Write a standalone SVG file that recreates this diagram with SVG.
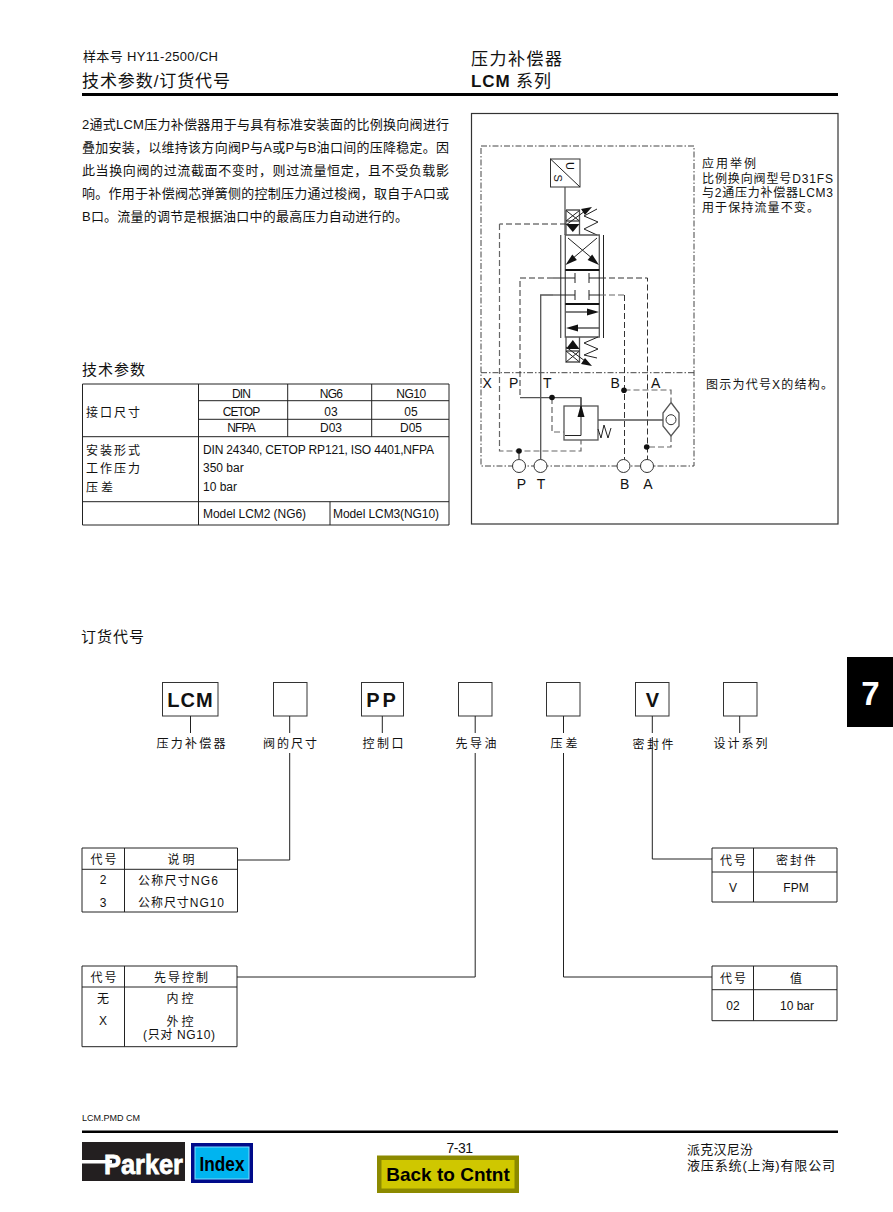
<svg xmlns="http://www.w3.org/2000/svg" width="893" height="1212" viewBox="0 0 893 1212">
<defs>
<style>
text{font-family:"Liberation Sans","Noto Sans CJK SC",sans-serif;fill:#111}
.s10{font-size:10px}.s11{font-size:11px}.s12{font-size:12px}.s13{font-size:13px}.s14{font-size:14px}.s15{font-size:15px}.s17{font-size:17px}
.m{text-anchor:middle}
.b{font-weight:bold}
.line{fill:none;stroke:#222;stroke-width:1}
.gl{fill:none;stroke:#555;stroke-width:1.3}
.da{fill:none;stroke:#333;stroke-width:1;stroke-dasharray:6 3}
.dg{fill:none;stroke:#666;stroke-width:1.2;stroke-dasharray:6 3}
.dd{fill:none;stroke:#444;stroke-width:1;stroke-dasharray:6 2 1.5 2}
.box{fill:#fff;stroke:#333;stroke-width:1}
.tb{fill:none;stroke:#222;stroke-width:1}
.k{fill:#111;stroke:none}
.port{fill:#fff;stroke:#333;stroke-width:1}
</style>
</defs>
<rect width="893" height="1212" fill="#fff"/>

<g id="header">
<text x="83" y="61" class="s13" textLength="135">样本号 HY11-2500/CH</text>
<text x="82" y="87" class="s17" textLength="148">技术参数/订货代号</text>
<text x="471" y="65" class="s17" textLength="91">压力补偿器</text>
<text x="471" y="87" class="s17" textLength="80"><tspan class="b">LCM</tspan> 系列</text>
<rect x="82" y="93" width="756" height="3" fill="#000"/>
</g>

<g id="intro">
<text x="82" y="129" class="s13" textLength="367">2通式LCM压力补偿器用于与具有标准安装面的比例换向阀进行</text>
<text x="82" y="152" class="s13" textLength="367">叠加安装，以维持该方向阀P与A或P与B油口间的压降稳定。因</text>
<text x="82" y="175" class="s13" textLength="367">此当换向阀的过流截面不变时，则过流量恒定，且不受负载影</text>
<text x="82" y="198" class="s13" textLength="367">响。作用于补偿阀芯弹簧侧的控制压力通过梭阀，取自于A口或</text>
<text x="82" y="221" class="s13" textLength="326">B口。流量的调节是根据油口中的最高压力自动进行的。</text>
</g>

<g id="spec-table">
<text x="82" y="375" class="s15" textLength="63">技术参数</text>
<path class="tb" d="M82.500 384H449V525H82.500ZM198.500 400.700H449M198.500 419.300H449M82.500 436.700H449M82.500 501.700H449M198.500 384V525M287.700 384V436.700M371.700 384V436.700M330 501.700V525"/>
<text x="86" y="417" class="s12" textLength="54">接口尺寸</text>
<text x="241" y="398" class="s12 m" letter-spacing="-.9">DIN</text>
<text x="331" y="398" class="s12 m" letter-spacing="-.7">NG6</text>
<text x="411" y="398" class="s12 m" letter-spacing="-.5">NG10</text>
<text x="241" y="416" class="s12 m" letter-spacing="-.9">CETOP</text>
<text x="331" y="416" class="s12 m">03</text>
<text x="411" y="416" class="s12 m">05</text>
<text x="241" y="432" class="s12 m" letter-spacing="-.9">NFPA</text>
<text x="331" y="432" class="s12 m">D03</text>
<text x="411" y="432" class="s12 m">D05</text>
<text x="86" y="455" class="s12" textLength="54">安装形式</text>
<text x="86" y="473" class="s12" textLength="54">工作压力</text>
<text x="86" y="492" class="s12" textLength="27">压差</text>
<text x="203" y="454" class="s12" textLength="231">DIN 24340, CETOP RP121, ISO 4401,NFPA</text>
<text x="203" y="472" class="s12">350 bar</text>
<text x="203" y="491" class="s12">10 bar</text>
<text x="203" y="518" class="s12" textLength="103">Model LCM2 (NG6)</text>
<text x="333" y="518" class="s12" textLength="106">Model LCM3(NG10)</text>
</g>

<g id="schematic">
<rect x="471.500" y="113.500" width="366.500" height="410.500" fill="none" stroke="#333" stroke-width="1.2"/>
<path class="dd" d="M481 146H694V466H481ZM481 372.700H694"/>
<text x="702" y="167.500" class="s12" textLength="54">应用举例</text>
<text x="702" y="182.500" class="s12" textLength="131">比例换向阀型号D31FS</text>
<text x="702" y="197" class="s12" textLength="131">与2通压力补偿器LCM3</text>
<text x="702" y="211.500" class="s12" textLength="117">用于保持流量不变。</text>
<text x="706" y="389" class="s12" textLength="127">图示为代号X的结构。</text>
<text x="482.500" y="388" class="s14">X</text><text x="509" y="388" class="s14">P</text><text x="543" y="388" class="s14">T</text><text x="610.500" y="388" class="s14">B</text><text x="651" y="388" class="s14">A</text>
<text x="521.500" y="489" class="s14 m">P</text><text x="541" y="489" class="s14 m">T</text><text x="624.700" y="489" class="s14 m">B</text><text x="648" y="489" class="s14 m">A</text>
</g>

<g id="solenoid">
<rect class="box" x="550.500" y="159" width="29.500" height="28"/>
<path class="line" d="M550.500 159L580 187"/>
<text class="s11" transform="translate(566 162) rotate(90)">U</text>
<text class="s11" transform="translate(553.500 174.500) rotate(90)">S</text>
<path class="gl" d="M565 187V235"/>
</g>

<g id="pilot-top">
<path class="gl" d="M566 210H579.500V235M566 210V235M566 221H579.500"/>
<path class="line" d="M566 210.500L579.500 221M579.500 210.500L566 221"/>
<path class="k" d="M566 224H579.500L572.800 232Z"/>
<path class="line" d="M566 225L585 211"/>
<path class="k" d="M592 207L581 209L585 215Z"/>
<path class="line" d="M597 235L584 229L598 222L584 216L597 209"/>
</g>

<g id="main-spool">
<path class="gl" d="M565.300 235H599.300V337H565.300ZM560.700 235V338"/>
<path class="line" d="M603.500 235V338"/>
<path class="line" d="M597 238L572 259M568 238L593 259"/>
<path class="k" d="M565.500 265L576.900 259.900L572.300 254.500Z"/>
<path class="k" d="M599 265L587.600 259.900L592.200 254.500Z"/>
<rect x="565.300" y="269" width="34" height="2" fill="#111"/>
<rect x="565.300" y="303" width="34" height="2" fill="#111"/>
<path class="line" d="M553 278H575M575 273V283M589 273V283M589 278H600M553 295H575M575 290V300M589 290V300M589 295H600"/>
<path class="gl" d="M565.300 312H590M599.300 328H575"/>
<path class="k" d="M599 312L587 308.500V315.500ZM566 328L578 324.500V331.500Z"/>
</g>

<g id="pilot-bottom">
<path class="gl" d="M566 337V362H579.500V337M566 351H579.500"/>
<path class="line" d="M566 351L579.500 362M579.500 351L566 362"/>
<path class="k" d="M566 349H579.500L572.800 340Z"/>
<path class="line" d="M566 347L585 361"/>
<path class="k" d="M592 366L581 364L585 358Z"/>
<path class="line" d="M598 337L584 343L598 349L584 355L597 358"/>
</g>

<g id="relief-valve">
<rect class="gl" x="564" y="406" width="34" height="34"/>
<path class="line" d="M565 435.500H581V398"/>
<path class="k" d="M581 404L577.500 417H584.500Z"/>
<path class="line" d="M598 429L601 438L604 425L608 438L611 428"/>
</g>

<g id="shuttle-valve">
<path class="gl" d="M671 402.500L679 413V426L671 436L663 426V413Z"/>
<circle class="port" cx="671" cy="419.700" r="5"/>
</g>

<g id="port-P"><circle class="port" cx="519" cy="466" r="6.500"/></g>
<g id="port-T"><circle class="port" cx="540.500" cy="466" r="6.500"/></g>
<g id="port-B"><circle class="port" cx="623.500" cy="466" r="6.500"/></g>
<g id="port-A"><circle class="port" cx="647" cy="466" r="6.500"/></g>

<g id="schematic-connectors">
<path class="da" d="M566 224H499.500"/>
<path class="dg" d="M499.500 224V451H581V440"/>
<path class="da" d="M553 278H520V397.700"/>
<path class="gl" d="M520 397.700H581V406"/>
<path class="gl" d="M553 295H540.700V459.500"/>
<path class="da" d="M600 278H647.500V459.500"/>
<path class="dg" d="M600 295H624.500"/>
<path class="da" d="M624.500 295V459.500"/>
<path class="dg" d="M624.500 390H671V402"/>
<path class="dg" d="M552 398V432H564"/>
<path class="dg" d="M671 436V447H647"/>
<path class="gl" d="M598 420H663M519 451V459.500"/>
<circle class="k" cx="519" cy="451" r="2.800"/>
<circle class="k" cx="552" cy="397.500" r="2.800"/>
<circle class="k" cx="624" cy="390.300" r="2.800"/>
<circle class="k" cx="646.700" cy="447" r="2.800"/>
</g>

<g id="order-title"><text x="81" y="642" class="s15" textLength="63">订货代号</text></g>

<g id="code-LCM"><rect class="box" x="162.500" y="682.500" width="55.500" height="33.500"/><text x="190.500" y="707" class="m b" style="font-size:20px" letter-spacing="1">LCM</text><text x="191" y="747.500" class="s12 m" textLength="69">压力补偿器</text></g>
<g id="code-size"><rect class="box" x="273.500" y="682.500" width="33.500" height="33.500"/><text x="290" y="747.500" class="s12 m" textLength="54">阀的尺寸</text></g>
<g id="code-PP"><rect class="box" x="361.500" y="682.500" width="42" height="33.500"/><text x="382.500" y="707" class="m b" style="font-size:20px" letter-spacing="3">PP</text><text x="383" y="747.500" class="s12 m" textLength="41">控制口</text></g>
<g id="code-pilot"><rect class="box" x="458.500" y="682.500" width="33.500" height="33.500"/><text x="476" y="747.500" class="s12 m" textLength="41">先导油</text></g>
<g id="code-dp"><rect class="box" x="546.500" y="682.500" width="33.500" height="33.500"/><text x="564" y="747.500" class="s12 m" textLength="27">压差</text></g>
<g id="code-V"><rect class="box" x="635.500" y="682.500" width="33.500" height="33.500"/><text x="652.500" y="707" class="m b" style="font-size:20px">V</text><text x="653" y="748.500" class="s12 m" textLength="41">密封件</text></g>
<g id="code-series"><rect class="box" x="723.500" y="682.500" width="33.500" height="33.500"/><text x="740.500" y="747.500" class="s12 m" textLength="54">设计系列</text></g>

<g id="table-size">
<path class="tb" d="M82 848H237.500V912H82ZM82 869.300H237.500M124.500 848V912"/>
<text x="103.500" y="863.500" class="s12 m" textLength="26">代号</text><text x="181" y="863.500" class="s12 m" textLength="27">说明</text>
<text x="103" y="884" class="s12 m">2</text><text x="178" y="885" class="s12 m" textLength="80">公称尺寸NG6</text>
<text x="103" y="907" class="s12 m">3</text><text x="181" y="907" class="s12 m" textLength="86">公称尺寸NG10</text>
</g>
<g id="table-pilot">
<path class="tb" d="M82 966H237V1046.700H82ZM82 987H237M124.500 966V1046.700"/>
<text x="103.500" y="981.500" class="s12 m" textLength="26">代号</text><text x="181" y="981.500" class="s12 m" textLength="54">先导控制</text>
<text x="103" y="1003" class="s12 m">无</text><text x="180" y="1003" class="s12 m" textLength="27">内控</text>
<text x="103" y="1025" class="s12 m">X</text><text x="180" y="1026" class="s12 m" textLength="27">外控</text>
<text x="179" y="1039" class="s12 m" textLength="72">(只对 NG10)</text>
</g>
<g id="table-seal">
<path class="tb" d="M712 848H837V902H712ZM712 872H837M753.500 848V902"/>
<text x="733" y="865" class="s12 m" textLength="26">代号</text><text x="796" y="865" class="s12 m" textLength="40">密封件</text>
<text x="733" y="892" class="s12 m">V</text><text x="796" y="892" class="s12 m">FPM</text>
</g>
<g id="table-dp">
<path class="tb" d="M712 966H837V1020.700H712ZM712 989.700H837M753.500 966V1020.700"/>
<text x="733" y="983" class="s12 m" textLength="26">代号</text><text x="796" y="983" class="s12 m">值</text>
<text x="733" y="1010" class="s12 m">02</text><text x="797" y="1010" class="s12 m">10 bar</text>
</g>

<g id="order-connectors">
<path class="line" d="M190.500 716V733M289.700 716V733M382.300 716V733M475.200 716V733M563.500 716V733M652.300 716V733M739.700 716V733"/>
<path class="line" d="M289.700 753V860H238"/>
<path class="line" d="M475.200 753V977H237"/>
<path class="line" d="M563.500 753V977H712"/>
<path class="line" d="M652.300 737V859H712"/>
</g>

<g id="tab-7"><rect x="847" y="657" width="46" height="70" fill="#000"/><text x="870.500" y="705" class="m b" style="font-size:33px;fill:#fff">7</text></g>

<g id="footer">
<text x="82" y="1121" style="font-size:9px">LCM.PMD CM</text>
<rect x="82" y="1130.500" width="756" height="2.500" fill="#000"/>
<rect x="82" y="1142" width="103" height="39" fill="#231f20"/>
<rect x="82" y="1160" width="30" height="3.500" fill="#fff"/>
<text x="104" y="1174" class="b" style="font-size:27px;fill:#fff;stroke:#fff;stroke-width:.8" textLength="79" lengthAdjust="spacingAndGlyphs">Parker</text>
<rect x="191" y="1143" width="62" height="40" fill="#000b8a"/>
<rect x="195" y="1147" width="54" height="32" fill="#00b4f0" stroke="#7fdcff" stroke-width="1"/>
<text x="222" y="1171" class="m b" style="font-size:20px;fill:#000" textLength="45" lengthAdjust="spacingAndGlyphs">Index</text>
<text x="459.500" y="1153" class="m" style="font-size:14px" letter-spacing="-.5">7-31</text>
<rect x="377" y="1155.500" width="142" height="37.500" fill="#8c8a00"/>
<rect x="381.500" y="1160" width="133" height="28.500" fill="#cfc700"/>
<text x="448" y="1181" class="m b" style="font-size:19px;fill:#000">Back to Cntnt</text>
<text x="687" y="1154" class="s13" textLength="66">派克汉尼汾</text>
<text x="687" y="1170" class="s13" textLength="148">液压系统(上海)有限公司</text>
</g>
</svg>
